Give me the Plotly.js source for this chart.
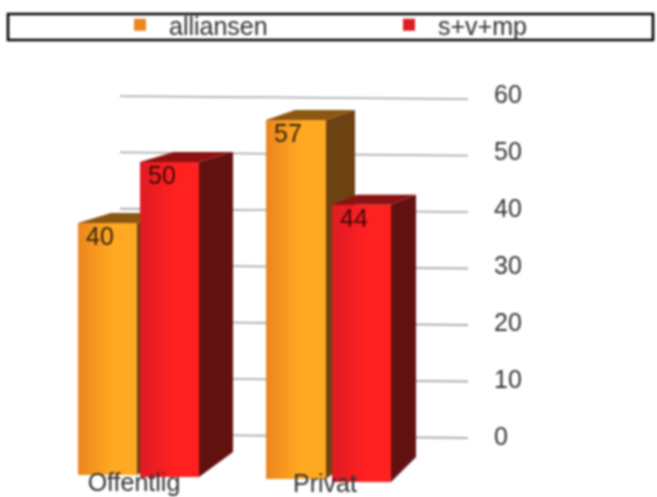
<!DOCTYPE html>
<html>
<head>
<meta charset="utf-8">
<script src="https://cdn.plot.ly/plotly-3.0.1.min.js"></script>
<style>
html,body{margin:0;padding:0;background:#fff;overflow:hidden}
#chart{width:657px;height:497px;filter:blur(0.8px)}
path.legendbar{transform:scale(1.42)}
</style>
</head>
<body>
<div id="chart"></div>
<script>
// ---- data ----
const categories = ["Offentlig", "Privat"];
const seriesNames = ["alliansen", "s+v+mp"];
const alliansen = [40, 57];
const svmp = [50, 44];
const tickValues = [0, 10, 20, 30, 40, 50, 60];

// ---- layout constants (pixels on the 1:1 x axis, value units via pxPerUnit) ----
const W = 657, H = 497, PLOT_W = 657;
const FRONT_ZERO = 480, FRONT_SCALE = 6.3;   // front plane of the bars
const BACK_ZERO = 436.5, BACK_SCALE = 5.7;   // back wall with the grid
const GRID_X = [120, 468];
const geom = {
  alliansen: {left: [78, 266], width: [59, 60], depth: [33, 29], bottom: [475, 479], rise: 10, lift: 23},
  svmp:      {left: [140, 332], width: [59, 59], depth: [34, 25], bottom: [477, 482], rise: 10, lift: 25}
};
const style = {
  alliansen: {from: [236, 134, 30], to: [255, 168, 33], side: "#6d4212", top: "#8b5712", text: "#33240c"},
  svmp:      {from: [222, 28, 36], to: [255, 32, 32], side: "#621111", top: "#8c1111", text: "#420808"}
};
const STRIPS = 24;
const LABEL_DROP = [16, 16];

const traces = [];

// back wall: slightly tilted grid lines, one per tick
tickValues.forEach(v => {
  traces.push({
    type: "scatter", mode: "lines", xaxis: "x", yaxis: "y",
    x: GRID_X, y: [0.44 + 0.988 * v, -0.26 + 0.991 * v],
    line: {color: "#aeaeae", width: 1.8}, showlegend: false, hoverinfo: "skip"
  });
});

function addSeries(key, name, values, axis) {
  const g = geom[key], s = style[key];
  const bases = g.bottom.map(b => (FRONT_ZERO - b) / FRONT_SCALE);
  // side and top faces
  values.forEach((v, i) => {
    const l = g.left[i], r = l + g.width[i], d = g.depth[i];
    const top = bases[i] + v, rise = g.rise / FRONT_SCALE, lift = g.lift / FRONT_SCALE;
    traces.push({
      type: "scatter", mode: "lines", fill: "toself", fillcolor: s.side, xaxis: "x", yaxis: axis,
      x: [r, r + d, r + d, r, r], y: [top, top + rise, bases[i] + lift, bases[i], top],
      line: {width: 0}, showlegend: false, hoverinfo: "skip"
    });
    traces.push({
      type: "scatter", mode: "lines", fill: "toself", fillcolor: s.top, xaxis: "x", yaxis: axis,
      x: [l, l + d, r + d, r, l], y: [top, top + rise, top + rise, top, top],
      line: {width: 0}, showlegend: false, hoverinfo: "skip"
    });
  });
  // front faces: bars cut into strips for the horizontal shading
  const xs = [], ys = [], bs = [], ws = [], cs = [];
  values.forEach((v, i) => {
    const sw = g.width[i] / STRIPS;
    for (let k = 0; k < STRIPS; k++) {
      const t = Math.min(1, k / (STRIPS * 0.55));
      const c = s.from.map((f, n) => Math.round(f + (s.to[n] - f) * t));
      xs.push(g.left[i] + (k + 0.5) * sw);
      ys.push(v); bs.push(bases[i]); ws.push(sw + 0.6);
      cs.push("rgb(" + c.join(",") + ")");
    }
  });
  traces.push({
    type: "bar", name: name, xaxis: "x", yaxis: axis, x: xs, y: ys, base: bs, width: ws,
    marker: {color: cs, line: {width: 0}}, showlegend: true, hoverinfo: "skip"
  });
  // value labels
  traces.push({
    type: "scatter", mode: "text", xaxis: "x", yaxis: axis, showlegend: false, hoverinfo: "skip",
    x: values.map((v, i) => g.left[i] + 22),
    y: values.map((v, i) => bases[i] + v - LABEL_DROP[i] / FRONT_SCALE),
    text: values.map(String), textposition: "middle center",
    textfont: {family: "Liberation Sans", size: 25, color: s.text}
  });
}
addSeries("alliansen", seriesNames[0], alliansen, "y2");
addSeries("svmp", seriesNames[1], svmp, "y3");

// category labels under the bars
traces.push({
  type: "scatter", mode: "text", xaxis: "x", yaxis: "y3", showlegend: false, hoverinfo: "skip", cliponaxis: false,
  x: [134, 325], y: [(FRONT_ZERO - 485) / FRONT_SCALE, (FRONT_ZERO - 486) / FRONT_SCALE],
  text: categories, textposition: "middle center",
  textfont: {family: "Liberation Sans", size: 25, color: "#333"}
});

const frontAxis = {
  range: [(FRONT_ZERO - H) / FRONT_SCALE, FRONT_ZERO / FRONT_SCALE],
  visible: false, overlaying: "y", anchor: "x", fixedrange: true
};
const layout = {
  width: W, height: H,
  margin: {l: 0, r: 0, t: 0, b: 0, pad: 0, autoexpand: false},
  paper_bgcolor: "#fff", plot_bgcolor: "rgba(0,0,0,0)",
  barmode: "overlay", bargap: 0,
  xaxis: {range: [0, PLOT_W], visible: false, fixedrange: true},
  yaxis: {
    range: [(BACK_ZERO - H) / BACK_SCALE, BACK_ZERO / BACK_SCALE], side: "right",
    anchor: "free", position: 480 / W,
    tickmode: "array", tickvals: tickValues, ticktext: tickValues.map(String),
    showgrid: false, zeroline: false, showline: false, ticklen: 0, ticks: "",
    ticklabelstandoff: 13,
    tickfont: {family: "Liberation Sans", size: 25, color: "#333"}, fixedrange: true
  },
  yaxis2: frontAxis,
  yaxis3: Object.assign({}, frontAxis),
  legend: {
    orientation: "h", xref: "container", yref: "container",
    x: 111 / W, xanchor: "left", y: 1 - 25 / H, yanchor: "middle",
    itemwidth: 48, entrywidth: 206, entrywidthmode: "pixels", borderwidth: 0,
    bgcolor: "rgba(0,0,0,0)", traceorder: "normal", itemclick: false, itemdoubleclick: false,
    font: {family: "Liberation Sans", size: 25, color: "#333"}
  },
  shapes: [{
    type: "rect", xref: "paper", yref: "paper", layer: "below",
    x0: 8 / PLOT_W, x1: 653 / PLOT_W, y0: 1 - 14 / H, y1: 1 - 40 / H,
    line: {color: "#000", width: 2.6}, fillcolor: "rgba(0,0,0,0)"
  }]
};
Plotly.newPlot("chart", traces, layout, {displayModeBar: false, responsive: false});
</script>
</body>
</html>
